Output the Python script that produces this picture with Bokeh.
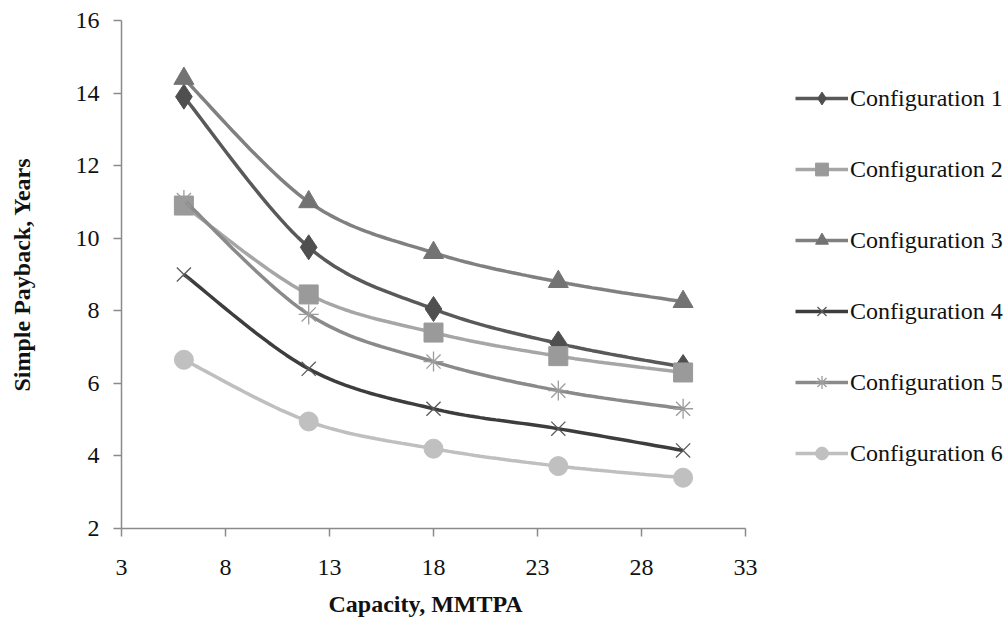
from bokeh.plotting import figure
from bokeh.models import Range1d, Legend, LegendItem, FixedTicker, Title
from bokeh.embed import file_html
from bokeh.resources import INLINE

capacity = [6, 12, 18, 24, 30]
config1 = [13.9, 9.75, 8.05, 7.1, 6.45]
config2 = [10.9, 8.45, 7.4, 6.75, 6.3]
config3 = [14.4, 11.0, 9.6, 8.8, 8.25]
config4 = [9.0, 6.4, 5.3, 4.75, 4.15]
config5 = [11.05, 7.9, 6.6, 5.8, 5.3]
config6 = [6.65, 4.95, 4.2, 3.72, 3.4]
series_names = ["Configuration 1", "Configuration 2", "Configuration 3",
                "Configuration 4", "Configuration 5", "Configuration 6"]
x_ticks = [3, 8, 13, 18, 23, 28, 33]
y_ticks = [2, 4, 6, 8, 10, 12, 14, 16]
x_axis_min, x_axis_max = 3, 33
y_axis_min, y_axis_max = 2, 16
x_title = "Capacity, MMTPA"
y_title = "Simple Payback, Years"

FONT = "Liberation Serif"
W, H = 1005, 626
LEFT, TOP, BOTTOM = 121, 20, 98
PLOT_W = 624  # width of the drawn axis (3..33)
FRAME_W = W - LEFT
FRAME_H = H - TOP - BOTTOM
x_view_max = x_axis_min + (x_axis_max - x_axis_min) * FRAME_W / PLOT_W


def smooth(xs, ys, n=24):
    """Catmull-Rom style Bezier smoothing (like a spreadsheet 'smoothed line')."""
    px, py = [], []
    m = len(xs)
    for i in range(m - 1):
        x0, y0 = xs[max(i - 1, 0)], ys[max(i - 1, 0)]
        x1, y1 = xs[i], ys[i]
        x2, y2 = xs[i + 1], ys[i + 1]
        x3, y3 = xs[min(i + 2, m - 1)], ys[min(i + 2, m - 1)]
        c1x, c1y = x1 + (x2 - x0) / 6.0, y1 + (y2 - y0) / 6.0
        c2x, c2y = x2 - (x3 - x1) / 6.0, y2 - (y3 - y1) / 6.0
        for k in range(n + (1 if i == m - 2 else 0)):
            t = k / n
            a = (1 - t) ** 3
            b = 3 * (1 - t) ** 2 * t
            c = 3 * (1 - t) * t ** 2
            d = t ** 3
            px.append(a * x1 + b * c1x + c * c2x + d * x2)
            py.append(a * y1 + b * c1y + c * c2y + d * y2)
    return px, py


p = figure(frame_width=FRAME_W, frame_height=FRAME_H,
           output_backend="svg", toolbar_location=None,
           x_range=Range1d(x_axis_min, x_view_max), y_range=Range1d(y_axis_min, y_axis_max),
           min_border_left=LEFT, min_border_right=0,
           min_border_top=TOP, min_border_bottom=BOTTOM)
p.outline_line_color = None
p.xgrid.visible = False
p.ygrid.visible = False
p.background_fill_color = "white"
p.border_fill_color = "white"

for ax in (p.xaxis[0], p.yaxis[0]):
    ax.axis_line_color = "#8a8a8a"
    ax.axis_line_width = 1.5
    ax.major_tick_line_color = "#8a8a8a"
    ax.major_tick_line_width = 1.5
    ax.major_tick_in = 0
    ax.major_tick_out = 8
    ax.minor_tick_line_color = None
    ax.major_label_text_font = FONT
    ax.major_label_text_font_size = "24px"
    ax.major_label_text_color = "#111111"
    ax.axis_label_text_font = FONT
    ax.axis_label_text_font_size = "24px"
    ax.axis_label_text_font_style = "bold"
    ax.axis_label_text_color = "#111111"

p.xaxis[0].bounds = (x_axis_min, x_axis_max)
p.xaxis[0].ticker = FixedTicker(ticks=x_ticks)
p.yaxis[0].ticker = FixedTicker(ticks=y_ticks)
p.yaxis[0].axis_label = y_title
p.xaxis[0].major_label_standoff = 23
p.yaxis[0].major_label_standoff = 14
p.yaxis[0].axis_label_standoff = 38

# x-axis title centred under the drawn axis (3..33), not under the wider frame
xt = Title(text=x_title, align="left", offset=207, standoff=23,
           text_font=FONT, text_font_size="24px", text_font_style="bold",
           text_color="#111111")
p.add_layout(xt, "below")

styles = [
    dict(data=config1, line="#595959", marker="diamond", mfill="#4f4f4f", mline="#4f4f4f", size=25, lw=1),
    dict(data=config2, line="#a6a6a6", marker="square", mfill="#9a9a9a", mline="#9a9a9a", size=19, lw=1),
    dict(data=config3, line="#808080", marker="triangle", mfill="#737373", mline="#737373", size=20, lw=1),
    dict(data=config4, line="#3d3d3d", marker="x", mfill=None, mline="#5a5a5a", size=20, lw=1.3),
    dict(data=config5, line="#8a8a8a", marker="asterisk", mfill=None, mline="#9c9c9c", size=20, lw=1.3),
    dict(data=config6, line="#bfbfbf", marker="circle", mfill="#c0c0c0", mline="#c0c0c0", size=19, lw=1),
]

items = []
for name, st in zip(series_names, styles):
    sx, sy = smooth(capacity, st["data"])
    r_line = p.line(sx, sy, line_color=st["line"], line_width=3.5)
    r_mark = p.scatter(capacity, st["data"], marker=st["marker"], size=st["size"],
                       fill_color=st["mfill"], line_color=st["mline"], line_width=st["lw"])
    items.append(LegendItem(label=name, renderers=[r_line, r_mark]))

legend = Legend(items=items, location=(674, 59), orientation="vertical",
                border_line_color=None, background_fill_alpha=0,
                padding=0, margin=0, spacing=39,
                glyph_width=53, glyph_height=32, label_height=32,
                label_standoff=2, label_text_font=FONT,
                label_text_font_size="24px", label_text_color="#111111")
p.add_layout(legend, "center")

open("out.html", "w").write(file_html(p, INLINE))
